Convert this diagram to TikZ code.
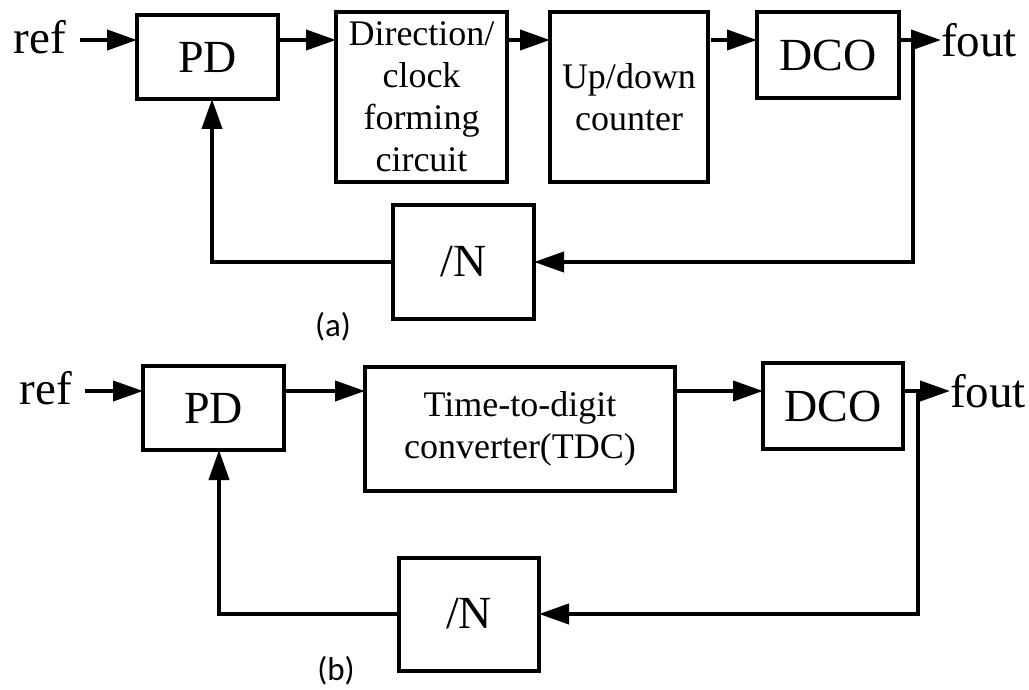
\documentclass[tikz,border=0pt]{standalone}
\usepackage{fontspec}
\setmainfont{Liberation Serif}
\newfontfamily\capfont{Carlito}
\usepackage{tikz}
\usetikzlibrary{arrows.meta,positioning}

\begin{document}
\begin{tikzpicture}[x=1pt, y=-1pt, >={Triangle[length=30pt,width=20pt]},
  block/.style={draw, line width=4pt, inner sep=0pt, outer sep=0pt,
    align=center, font=\fontsize{46}{50}\selectfont},
  smallblock/.style={block, font=\fontsize{36}{42}\selectfont},
  lbl/.style={inner sep=0pt, font=\fontsize{47}{50}\selectfont},
  caption/.style={inner sep=0pt, font=\capfont\fontsize{33}{36}\selectfont},
  wire/.style={line width=4pt},
  arr/.style={->, line width=4pt}]
\useasboundingbox (0,0) rectangle (1029,690);
% (a) counter based loop
\node[block, minimum width=141pt, minimum height=84pt] (pdA) at (207.5,57) {PD};
\node[smallblock, minimum width=171pt, minimum height=170pt,
  right=58pt of pdA.north east, anchor=north west, yshift=3pt] (dirA)
  {Direction/\\ clock\\ forming\\ circuit};
\node[smallblock, minimum width=158pt, minimum height=170pt,
  right=43pt of dirA.north east, anchor=north west] (upA)
  {Up/down\\ counter};
\node[block, minimum width=142pt, minimum height=86pt,
  right=49pt of upA.north east, anchor=north west] (dcoA) {DCO};
\node[block, minimum width=141pt, minimum height=113pt] (ndivA) at (463.5,262) {/N};
\coordinate (inA) at (80,40);
\coordinate (jA) at (913,40);
\node[lbl, left=14pt of inA, yshift=2.5pt] (refA) {ref};
\node[lbl, right=28pt of jA] (foutA) {fout};
\draw[arr] (inA) -- (inA -| pdA.west);
\draw[arr] (inA -| pdA.east) -- (inA -| dirA.west);
\draw[arr] (inA -| dirA.east) -- (inA -| upA.west);
\draw[arr] ([xshift=3pt]inA -| upA.east) -- (inA -| dcoA.west);
\draw[wire] (inA -| dcoA.east) -- (jA);
\draw[arr] (jA) -- (foutA.west);
\draw[arr] (jA) |- (ndivA.east);
\draw[arr] (ndivA.west) -| ([xshift=4.5pt]pdA.south);
\node[caption] (capA) at (333,327) {(a)};
% (b) TDC based loop
\node[block, minimum width=141pt, minimum height=84pt] (pdB) at (213.5,408) {PD};
\node[smallblock, minimum width=310pt, minimum height=124pt,
  right=81pt of pdB.north east, anchor=north west, yshift=-1pt] (tdcB)
  {Time-to-digit\\ converter(TDC)};
\node[block, minimum width=140pt, minimum height=86pt,
  right=88pt of tdcB.north east, anchor=north west, yshift=4pt] (dcoB) {DCO};
\node[block, minimum width=140pt, minimum height=113pt] (ndivB) at (469,614) {/N};
\coordinate (inB) at (85,391);
\coordinate (jB) at (918,391);
\node[lbl, left=13pt of inB, yshift=2.5pt] (refB) {ref};
\node[lbl, right=32pt of jB] (foutB) {fout};
\draw[arr] (inB) -- (inB -| pdB.west);
\draw[arr] (inB -| pdB.east) -- (inB -| tdcB.west);
\draw[arr] (inB -| tdcB.east) -- (inB -| dcoB.west);
\draw[wire] (inB -| dcoB.east) -- (jB);
\draw[arr] (jB) -- (foutB.west);
\draw[arr] (jB) |- (ndivB.east);
\draw[arr] (ndivB.west) -| ([xshift=5.5pt]pdB.south);
\node[caption] (capB) at (336,671) {(b)};
\end{tikzpicture}
\end{document}
